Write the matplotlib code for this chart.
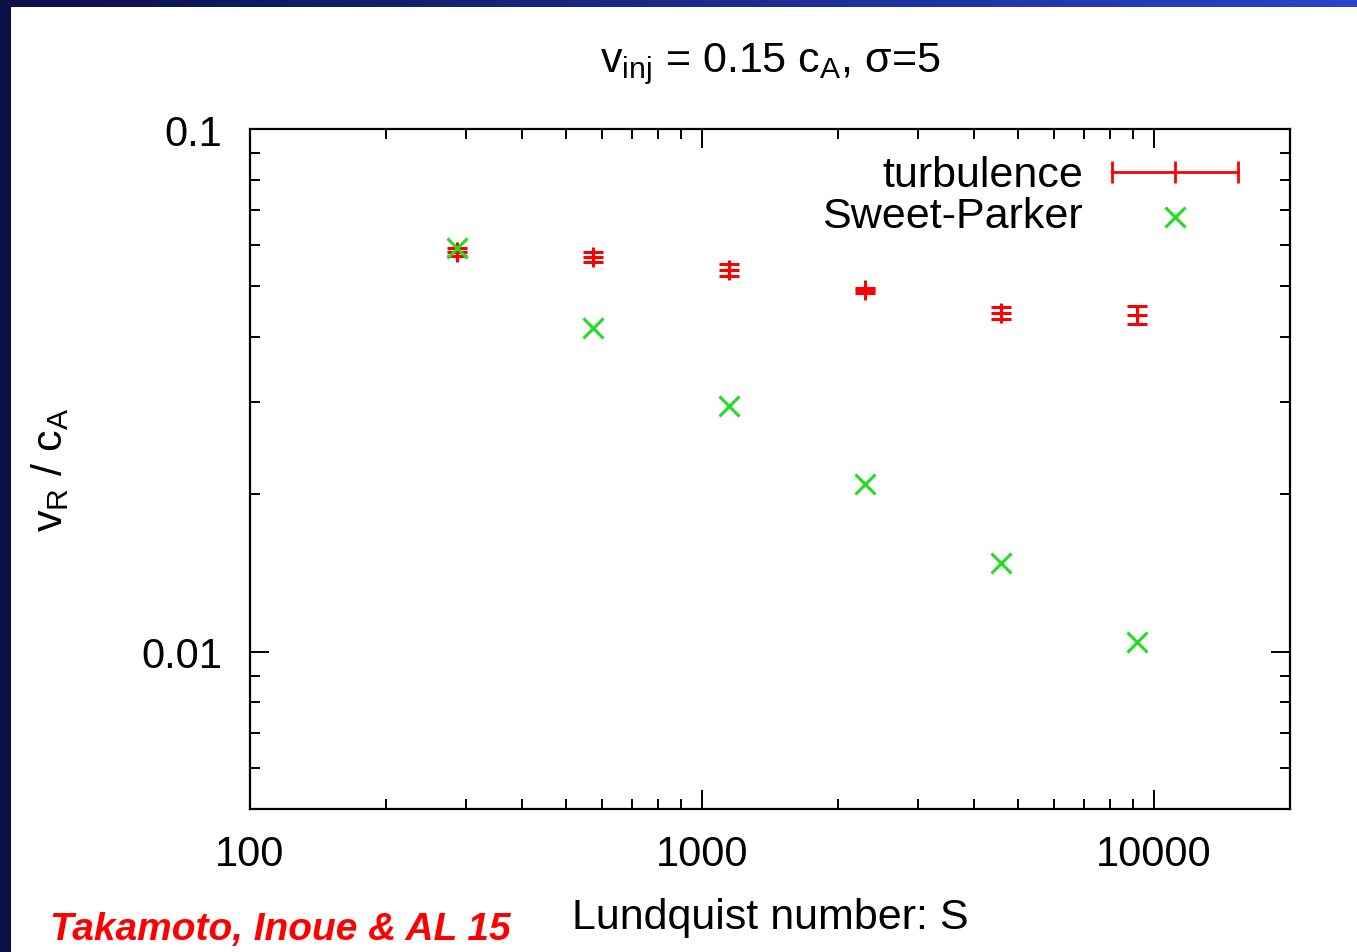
import numpy as np
import matplotlib
matplotlib.use('Agg')
import matplotlib.pyplot as plt
from matplotlib.ticker import FixedLocator, FixedFormatter, NullFormatter
from matplotlib.colors import LinearSegmentedColormap
from matplotlib.patches import Rectangle

# ---- data ----
S = [287, 574, 1148, 2296, 4592, 9184]
turb = [0.0582, 0.0569, 0.0538, 0.0492, 0.0445, 0.0441]
turb_lo = [0.0572, 0.0557, 0.0524, 0.0486, 0.0433, 0.0424]
turb_hi = [0.0592, 0.0582, 0.0552, 0.0497, 0.0457, 0.0459]
sweet_parker = [0.0592, 0.0417, 0.0295, 0.0209, 0.0148, 0.01045]

x_ticks = [100, 1000, 10000]
x_ticklabels = ['100', '1000', '10000']
y_ticks = [0.01, 0.1]
y_ticklabels = ['0.01', '0.1']

plt.rcParams['font.family'] = ['Liberation Sans', 'DejaVu Sans']
plt.rcParams['mathtext.fontset'] = 'custom'
plt.rcParams['mathtext.rm'] = 'Liberation Sans'
plt.rcParams['mathtext.it'] = 'Liberation Sans:italic'

W, H = 1357, 953
fig = plt.figure(figsize=(W / 100, H / 100), dpi=100)
fig.patch.set_facecolor('white')

# slide-style border
bg = fig.add_axes([0, 0, 1, 1], zorder=-10)
grad = np.linspace(0, 1, 256)[None, :]
cmap = LinearSegmentedColormap.from_list('band', ['#0a1048', '#2a44cc'])
bg.imshow(grad, extent=[0, W, 8, 0], aspect='auto', cmap=cmap)
bg.add_patch(Rectangle((0, 0), 11, H, color='#0a1048', lw=0))
bg.set_xlim(0, W)
bg.set_ylim(H, 0)
bg.axis('off')

ax = fig.add_axes([250 / W, 1 - 810 / H, 1040 / W, 680 / H])
ax.set_xscale('log')
ax.set_yscale('log')

t = np.array(turb)
yerr = [t - np.array(turb_lo), np.array(turb_hi) - t]
ax.errorbar(S, turb, yerr=yerr, fmt='+', color='#ff0000', ms=15, mew=2.2,
            capsize=7.5, capthick=2.2, elinewidth=2.2, zorder=3)
ax.plot(S, sweet_parker, 'x', color='#22dd22', ms=15, mew=2.2, zorder=4)

ax.set_xlim(100, 20000)
ax.set_ylim(0.005, 0.1)

ax.xaxis.set_major_locator(FixedLocator(x_ticks))
ax.xaxis.set_major_formatter(FixedFormatter(x_ticklabels))
xminor = [m * d for d in (100, 1000, 10000) for m in range(2, 10)]
ax.xaxis.set_minor_locator(FixedLocator(xminor))
ax.xaxis.set_minor_formatter(NullFormatter())
ax.yaxis.set_major_locator(FixedLocator(y_ticks))
ax.yaxis.set_major_formatter(FixedFormatter(y_ticklabels))
yminor = [m * d for d in (0.001, 0.01) for m in range(2, 10)]
ax.yaxis.set_minor_locator(FixedLocator(yminor))
ax.yaxis.set_minor_formatter(NullFormatter())

ax.tick_params(which='both', direction='in', top=True, right=True,
               width=1.4, labelsize=30, color='black')
ax.tick_params(which='major', length=14)
ax.tick_params(which='minor', length=7)
ax.tick_params(axis='x', pad=18)
ax.tick_params(axis='y', pad=20)
for sp in ax.spines.values():
    sp.set_linewidth(1.6)

# legend (gnuplot style)
ax.text(0.801, 0.932, 'turbulence', transform=ax.transAxes,
        ha='right', va='center', fontsize=31)
ax.text(0.801, 0.872, 'Sweet-Parker', transform=ax.transAxes,
        ha='right', va='center', fontsize=31)
ax.plot([0.829, 0.889, 0.950], [0.937] * 3, color='#ff0000', lw=2,
        marker='|', ms=16, mew=2, transform=ax.transAxes, clip_on=False)
ax.plot([0.889], [0.871], 'x', color='#22dd22', ms=15, mew=2.2,
        transform=ax.transAxes, clip_on=False)

fig.text(770 / W, 1 - 64 / H, r'v$_{\rm inj}$ = 0.15 c$_{\rm A}$, σ=5',
         ha='center', va='center', fontsize=31)
fig.text(50 / W, 1 - 470 / H, r'v$_{\rm R}$ / c$_{\rm A}$', rotation=90,
         ha='center', va='center', fontsize=31)
fig.text(770 / W, 1 - 918 / H, 'Lundquist number: S',
         ha='center', va='center', fontsize=31)
fig.text(50 / W, 1 - 930 / H, 'Takamoto, Inoue & AL 15', ha='left',
         va='center', color='#ff0000', fontweight='bold', style='italic',
         fontsize=28)

fig.savefig('out.png', dpi=100)
